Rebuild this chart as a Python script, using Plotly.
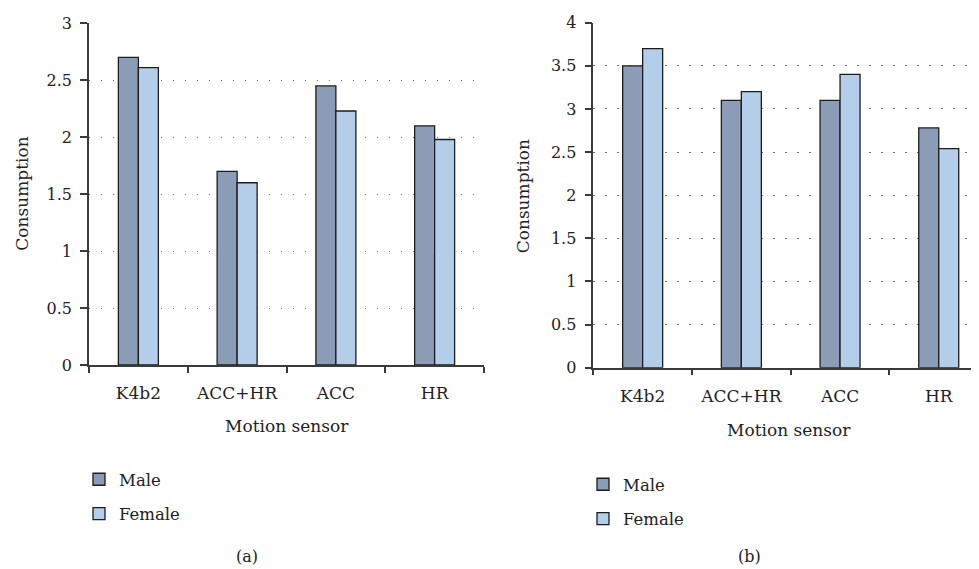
import plotly.graph_objects as go

categories = ["K4b2", "ACC+HR", "ACC", "HR"]
male_a = [2.70, 1.70, 2.45, 2.10]
female_a = [2.61, 1.60, 2.23, 1.98]
male_b = [3.50, 3.10, 3.10, 2.78]
female_b = [3.70, 3.20, 3.40, 2.54]
series_names = ["Male", "Female"]
y_ticks_a = [0, 0.5, 1, 1.5, 2, 2.5, 3]
y_ticks_b = [0, 0.5, 1, 1.5, 2, 2.5, 3, 3.5, 4]

OFF = 8  # default page body margin
W, H = 979 - OFF, 569 - OFF
FONT = "DejaVu Serif"
TXT = "#222222"
MALE_C = "rgb(139,156,182)"
FEMALE_C = "rgb(180,206,234)"
EDGE = "#1c1c1c"
AX = "#3a3a3a"

def px_x(p):
    return (p - OFF) / W

def px_y(p):
    return (H - (p - OFF)) / H

fig = go.Figure()

for name, vals, col, lg, grp in [
    (series_names[0], male_a, MALE_C, "legend", "ma"),
    (series_names[1], female_a, FEMALE_C, "legend", "fa"),
]:
    fig.add_trace(go.Bar(x=categories, y=vals, name=name, xaxis="x", yaxis="y",
                         marker=dict(color=col, line=dict(color=EDGE, width=1.3)),
                         legend=lg, legendgroup=grp))
for name, vals, col, lg, grp in [
    (series_names[0], male_b, MALE_C, "legend2", "mb"),
    (series_names[1], female_b, FEMALE_C, "legend2", "fb"),
]:
    fig.add_trace(go.Bar(x=categories, y=vals, name=name, xaxis="x2", yaxis="y2",
                         marker=dict(color=col, line=dict(color=EDGE, width=1.3)),
                         legend=lg, legendgroup=grp))

cat_w = 98.7
xa_left, xa_right = 89, 484
xb_left = 593.3
xb_right = 979
xb_max = -0.5 + (xb_right - xb_left) / cat_w

common_x = dict(type="category", showline=True, linecolor=AX, linewidth=1.5,
                ticks="outside", tickson="boundaries", ticklen=6, tickcolor=AX, tickwidth=1.5,
                showgrid=False, zeroline=False, ticklabelstandoff=12, automargin=False,
                tickfont=dict(family=FONT, size=17, color=TXT))
common_y = dict(showline=True, linecolor=AX, linewidth=1.5, ticks="outside",
                ticklen=7, tickcolor=AX, tickwidth=1.5, showgrid=True,
                gridcolor="#6e6e6e", gridwidth=1.4, griddash="1.4px,10.6px",
                zeroline=False, ticklabelstandoff=5, automargin=False,
                tickfont=dict(family=FONT, size=16, color=TXT))

fig.update_layout(
    template="none",
    width=W, height=H,
    margin=dict(l=0, r=0, t=0, b=0, autoexpand=False),
    paper_bgcolor="white", plot_bgcolor="white",
    barmode="group", bargap=0.595, bargroupgap=0,
    showlegend=True,
    xaxis=dict(common_x, domain=[px_x(xa_left), px_x(xa_right)], range=[-0.5, 3.5],
               anchor="y"),
    yaxis=dict(common_y, domain=[px_y(365), px_y(23.3)], range=[0, 3],
               tickvals=y_ticks_a, anchor="x"),
    xaxis2=dict(common_x, domain=[px_x(xb_left), px_x(xb_right)], range=[-0.5, xb_max],
                anchor="y2"),
    yaxis2=dict(common_y, domain=[px_y(367.7), px_y(22.7)], range=[0, 4],
                tickvals=y_ticks_b, anchor="x2"),
    legend=dict(x=px_x(79), y=px_y(462), xanchor="left", yanchor="top",
                font=dict(family=FONT, size=16.5, color=TXT), tracegroupgap=10,
                bgcolor="rgba(0,0,0,0)", traceorder="grouped"),
    legend2=dict(x=px_x(583), y=px_y(467), xanchor="left", yanchor="top",
                 font=dict(family=FONT, size=16.5, color=TXT), tracegroupgap=10,
                 bgcolor="rgba(0,0,0,0)", traceorder="grouped"),
)

ann = [
    dict(text="Motion sensor", x=px_x(286.5), y=px_y(425.7), size=17),
    dict(text="Motion sensor", x=px_x(789), y=px_y(430), size=17),
    dict(text="Consumption", x=px_x(21.7), y=px_y(194), textangle=-90, size=17),
    dict(text="Consumption", x=px_x(523.3), y=px_y(196), textangle=-90, size=17),
    dict(text="(a)", x=px_x(246.7), y=px_y(556.7), size=16),
    dict(text="(b)", x=px_x(749.3), y=px_y(556.7), size=16),
]
for a in ann:
    sz = a.pop("size")
    fig.add_annotation(xref="paper", yref="paper", showarrow=False,
                       xanchor="center", yanchor="middle",
                       font=dict(family=FONT, size=sz, color=TXT), **a)

fig.write_html("out.html")
